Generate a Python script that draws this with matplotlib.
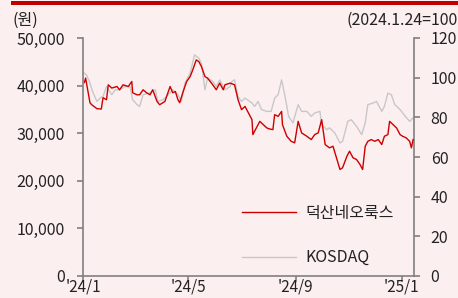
import matplotlib
matplotlib.use("Agg")
import matplotlib.pyplot as plt
from matplotlib.patches import Rectangle
import pandas as pd

plt.rcParams['font.family'] = ['Noto Sans CJK KR', 'DejaVu Sans']

# ---- data (days since 2024-01-01, values) ----
stock_days = [1.5, 3, 8, 10, 16, 21, 23, 27, 29, 33, 39, 42, 46, 52, 56, 57, 62, 65, 69, 73,
              77, 80, 85, 88, 94, 100, 103, 106, 109, 111, 115, 119, 123, 126, 130, 133, 136,
              140, 143, 149, 153, 157, 161, 163, 169, 174, 178, 182, 186, 189, 194, 195, 199,
              203, 207, 211, 214, 218, 220, 224, 228, 229, 234, 239, 243, 247, 251, 257, 262,
              266, 270, 274, 278, 283, 287, 291, 295, 298, 303, 306, 310, 314, 318, 321, 324,
              327, 331, 335, 339, 343, 346, 350, 352, 356, 360, 364, 367, 371, 375, 377, 379]
stock_price = [40650, 41570, 36400, 35980, 35150, 35080, 37450, 37030, 40170, 39480, 39810,
               39120, 40170, 39810, 40860, 38490, 38070, 38070, 39120, 38490, 38070, 39120,
               36670, 35980, 36670, 39810, 38490, 38760, 37030, 36400, 38760, 40860, 41900,
               43300, 45400, 45040, 44000, 41900, 41570, 40170, 39120, 40520, 39120, 40170,
               40520, 40170, 37030, 34940, 35630, 34580, 32840, 29710, 31110, 32490, 31800,
               31110, 30900, 30750, 33890, 33540, 34580, 31800, 29350, 28300, 27970, 32490,
               30060, 29350, 28660, 29710, 30060, 32840, 27610, 26920, 27260, 24830, 22380,
               22740, 25170, 26210, 24830, 24480, 23430, 22380, 27260, 28300, 28660, 28300,
               28660, 27610, 29350, 29710, 32490, 31800, 31110, 29710, 29350, 29020, 28300,
               26920, 28660]

kosdaq_days = [1.5, 4, 8, 11, 16, 20, 23, 27, 33, 37, 42, 48, 54, 57, 62, 65, 69, 77, 83, 86,
               92, 98, 103, 109, 113, 117, 123, 128, 133, 136, 140, 143, 149, 153, 157, 163,
               169, 171, 174, 178, 182, 186, 194, 197, 201, 205, 211, 216, 220, 224, 228, 232,
               236, 241, 247, 251, 257, 262, 266, 272, 274, 280, 283, 289, 295, 298, 304, 308,
               314, 320, 324, 327, 333, 337, 343, 346, 350, 354, 358, 364, 370, 375, 379]
kosdaq_index = [102.3, 101.4, 97.3, 93.0, 88.0, 89.9, 90.5, 95.5, 91.4, 93.9, 93.9, 95.5, 95.5,
                88.9, 86.4, 85.5, 91.4, 92.4, 93.9, 88.0, 88.9, 91.4, 93.9, 91.4, 88.0, 97.3,
                102.3, 111.5, 109.8, 107.3, 93.9, 99.8, 98.1, 95.5, 98.9, 93.9, 95.5, 98.1,
                98.9, 90.5, 88.0, 89.7, 87.2, 85.5, 88.0, 83.9, 83.0, 83.0, 89.7, 91.4, 98.9,
                90.5, 80.5, 77.2, 86.4, 83.0, 83.0, 80.5, 82.2, 83.0, 76.3, 73.8, 74.7, 72.2,
                67.1, 67.9, 78.0, 78.8, 75.5, 71.3, 77.2, 86.4, 87.2, 88.0, 83.0, 85.5, 92.2,
                91.4, 86.4, 83.9, 80.5, 78.0, 79.7]

series_names = ['덕산네오룩스', 'KOSDAQ']
x_ticks = ['2024-01-01', '2024-05-01', '2024-09-01', '2025-01-01']
x_tick_labels = ["'24/1", "'24/5", "'24/9", "'25/1"]
left_ticks = [0, 10000, 20000, 30000, 40000, 50000]
right_ticks = [0, 20, 40, 60, 80, 100, 120]

base = pd.Timestamp('2024-01-01')
stock_dates = base + pd.to_timedelta(stock_days, unit='D')
kosdaq_dates = base + pd.to_timedelta(kosdaq_days, unit='D')

# ---- style ----
bg = '#fcefef'
red = '#cc0000'
grey = '#c8c8c8'
spine_c = '#808080'
txt = '#222222'
fs = 11.5

fig = plt.figure(figsize=(4.58, 2.98), dpi=100, facecolor=bg)
ax = fig.add_axes([83/458, 1-276/298, (414-83)/458, (276-38)/298])
ax2 = ax.twinx()
ax.set_zorder(ax2.get_zorder() + 1)
ax.patch.set_visible(False)
ax2.set_facecolor(bg)

fig.patches.append(Rectangle((11/458, 1-5/298), 1-11/458, 4/298, transform=fig.transFigure,
                             facecolor='#c00000', edgecolor='none'))

l1, = ax.plot(stock_dates, stock_price, color=red, lw=1.0, label=series_names[0])
l2, = ax2.plot(kosdaq_dates, kosdaq_index, color=grey, lw=1.0, label=series_names[1])

ax.set_ylim(0, 50000)
ax2.set_ylim(0, 120)
ax.set_xlim(pd.Timestamp('2024-01-01'), pd.Timestamp('2025-01-15'))

ax.set_yticks(left_ticks)
ax.set_yticklabels([f'{v:,}' for v in left_ticks])
ax2.set_yticks(right_ticks)
ax2.set_yticklabels([str(v) for v in right_ticks])
ax.set_xticks(pd.to_datetime(x_ticks))
ax.set_xticklabels(x_tick_labels)

for a in (ax, ax2):
    a.spines['top'].set_visible(False)
    for s in ('left', 'right', 'bottom'):
        a.spines[s].set_color(spine_c)
        a.spines[s].set_linewidth(1.2)
    a.tick_params(colors=spine_c, labelcolor=txt, labelsize=fs, length=4, width=1.2)
ax.spines['right'].set_visible(False)
ax2.spines['left'].set_visible(False)
ax2.spines['bottom'].set_visible(False)
ax.tick_params(axis='y', pad=9)
ax2.tick_params(axis='y', pad=8)
ax.tick_params(axis='x', pad=-2, labelsize=11)

leg = ax.legend(handles=[l1, l2], loc='center left', bbox_to_anchor=(0.48, 0.17),
                frameon=False, fontsize=fs, handlelength=3.4, handletextpad=0.6,
                labelspacing=1.7, borderpad=0, borderaxespad=0)
for t in leg.get_texts():
    t.set_color(txt)

fig.text(13/458, 1-20/298, '(원)', fontsize=fs, color=txt, ha='left', va='center')
fig.text(1.0, 1-20/298, '(2024.1.24=100', fontsize=fs, color=txt, ha='right', va='center')

fig.savefig('out.png', dpi=100, facecolor=bg)
